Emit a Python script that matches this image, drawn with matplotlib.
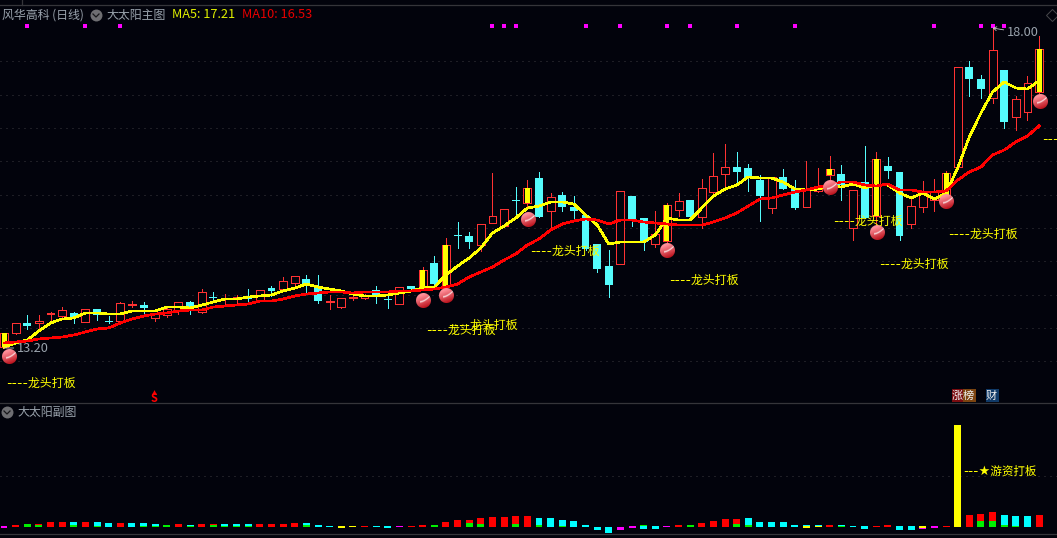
""" Daily candle chart with the sun main panel and the sub panel. """

import numpy as np
import matplotlib
matplotlib.use("Agg")
import matplotlib.pyplot as plt
from matplotlib.lines import Line2D
from matplotlib.patches import Rectangle
from matplotlib.offsetbox import OffsetImage, AnnotationBbox

plt.rcParams['font.family'] = ['Noto Sans CJK SC', 'DejaVu Sans']

opens = [13.22, 13.43, 13.58, 13.58, 13.71, 13.68, 13.73, 13.59, 13.79, 13.61,
         13.61, 13.85, 13.85, 13.65, 13.70, 13.77, 13.89, 13.74, 13.97, 13.94,
         13.95, 13.98, 13.92, 14.10, 14.09, 14.18, 14.24, 14.12, 13.89, 13.81,
         13.95, 13.95, 14.07, 13.94, 13.86, 14.13, 14.09, 14.48, 14.13, 14.90,
         14.88, 14.75, 15.08, 15.03, 15.42, 15.38, 15.75, 15.26, 15.50, 15.32,
         15.20, 14.76, 14.43, 14.46, 15.48, 15.15, 14.76, 14.81, 15.27, 15.42,
         15.17, 15.54, 15.81, 15.92, 15.90, 15.72, 15.30, 15.77, 15.60, 15.32,
         15.56, 15.80, 15.81, 15.00, 15.69, 15.18, 15.93, 15.84, 15.06, 15.32,
         15.42, 15.44, 15.92, 17.42, 17.24, 16.95, 17.37, 16.67, 16.74, 17.04]
closes = [13.43, 13.58, 13.53, 13.61, 13.73, 13.77, 13.65, 13.79, 13.70, 13.59,
          13.88, 13.86, 13.80, 13.73, 13.79, 13.89, 13.79, 14.04, 13.95, 13.95,
          13.97, 13.94, 14.07, 14.06, 14.21, 14.28, 14.16, 13.91, 13.91, 13.95,
          13.97, 14.00, 14.00, 13.92, 14.12, 14.09, 14.37, 14.16, 14.75, 14.88,
          14.79, 15.06, 15.18, 15.29, 15.41, 15.60, 15.17, 15.47, 15.32, 15.26,
          14.69, 14.39, 14.15, 15.56, 15.14, 14.79, 14.91, 15.35, 15.41, 15.17,
          15.60, 15.78, 15.92, 15.84, 15.75, 15.48, 15.77, 15.59, 15.30, 15.57,
          15.63, 15.89, 15.65, 15.57, 15.15, 16.04, 15.86, 14.88, 15.33, 15.53,
          15.54, 15.83, 17.42, 17.24, 17.09, 17.67, 16.59, 16.94, 17.18, 17.69]
highs = [13.43, 13.58, 13.70, 13.70, 13.74, 13.82, 13.74, 13.79, 13.79, 13.68,
         13.89, 13.91, 13.89, 13.73, 13.83, 13.89, 13.91, 14.09, 14.04, 14.01,
         14.00, 14.09, 14.07, 14.13, 14.27, 14.28, 14.30, 14.30, 14.00, 13.95,
         14.01, 14.01, 14.13, 14.03, 14.12, 14.13, 14.42, 14.58, 14.85, 15.09,
         14.94, 15.06, 15.83, 15.29, 15.62, 15.72, 15.84, 15.53, 15.54, 15.48,
         15.20, 14.76, 14.67, 15.56, 15.48, 15.15, 15.26, 15.38, 15.53, 15.42,
         15.74, 16.13, 16.26, 16.14, 15.96, 15.80, 15.77, 15.89, 15.72, 16.01,
         15.90, 16.08, 15.95, 15.57, 16.23, 16.14, 16.07, 15.84, 15.47, 15.71,
         15.74, 15.86, 17.42, 17.51, 17.30, 18.00, 17.37, 16.98, 17.28, 17.88]
lows = [13.20, 13.41, 13.49, 13.50, 13.62, 13.67, 13.58, 13.59, 13.62, 13.58,
        13.59, 13.82, 13.73, 13.61, 13.67, 13.71, 13.71, 13.73, 13.89, 13.86,
        13.88, 13.86, 13.92, 13.98, 14.07, 14.13, 14.03, 13.88, 13.79, 13.80,
        13.92, 13.94, 13.88, 13.80, 13.86, 14.07, 14.07, 14.10, 14.12, 14.70,
        14.70, 14.66, 15.08, 15.03, 15.18, 15.30, 15.17, 15.02, 15.26, 15.12,
        14.67, 14.34, 13.97, 14.46, 15.03, 14.67, 14.72, 14.79, 15.18, 15.17,
        15.00, 15.53, 15.62, 15.69, 15.56, 15.11, 15.23, 15.59, 15.29, 15.32,
        15.54, 15.69, 15.42, 14.82, 15.15, 15.02, 15.75, 14.82, 15.00, 15.24,
        15.26, 15.42, 15.92, 16.98, 16.95, 16.88, 16.50, 16.47, 16.62, 17.03]

ma5 = [13.215, 13.275, 13.32, 13.455, 13.575, 13.635, 13.65, 13.725, 13.725, 13.71,
       13.71, 13.755, 13.755, 13.755, 13.815, 13.815, 13.80, 13.845, 13.89, 13.935,
       13.935, 13.965, 13.98, 13.995, 14.055, 14.10, 14.16, 14.115, 14.085, 14.055,
       14.01, 13.98, 13.98, 13.995, 14.025, 14.055, 14.10, 14.115, 14.295, 14.43,
       14.55, 14.70, 14.925, 15.03, 15.15, 15.30, 15.33, 15.39, 15.39, 15.36,
       15.195, 15.045, 14.76, 14.79, 14.79, 14.79, 14.895, 15.15, 15.12, 15.12,
       15.30, 15.48, 15.585, 15.645, 15.765, 15.75, 15.75, 15.69, 15.585, 15.57,
       15.585, 15.63, 15.615, 15.66, 15.60, 15.645, 15.645, 15.525, 15.45, 15.525,
       15.435, 15.525, 15.90, 16.365, 16.725, 17.04, 17.19, 17.10, 17.085, 17.21]
ma10 = [13.275, 13.29, 13.305, 13.335, 13.35, 13.365, 13.395, 13.44, 13.485, 13.50,
        13.575, 13.635, 13.68, 13.71, 13.725, 13.755, 13.77, 13.77, 13.815, 13.83,
        13.845, 13.86, 13.905, 13.905, 13.935, 13.98, 14.01, 14.025, 14.04, 14.04,
        14.025, 14.04, 14.04, 14.04, 14.055, 14.055, 14.07, 14.085, 14.115, 14.16,
        14.265, 14.34, 14.415, 14.52, 14.61, 14.745, 14.835, 14.97, 15.06, 15.105,
        15.135, 15.12, 15.06, 15.12, 15.12, 15.09, 15.075, 15.06, 15.045, 15.045,
        15.045, 15.09, 15.15, 15.225, 15.33, 15.435, 15.45, 15.495, 15.54, 15.57,
        15.615, 15.645, 15.69, 15.69, 15.645, 15.63, 15.66, 15.57, 15.57, 15.54,
        15.54, 15.555, 15.72, 15.84, 15.915, 16.095, 16.17, 16.29, 16.38, 16.53]

limit_days = [0, 36, 38, 45, 57, 71, 75, 81, 89]
ball_days = [0.43, 36.08, 38.08, 45.08, 57.08, 71.08, 75.08, 81.08, 89.08]
ball_prices = [13.08, 13.92, 13.995, 15.135, 14.67, 15.615, 14.925, 15.405, 16.89]
flag_days = [2, 7, 10, 42, 43, 44, 50, 53, 57, 59, 63, 68, 80, 84, 85, 86]
flag_price = 18.03
price_grid = [17.5, 17.0, 16.5, 16.0, 15.5, 15.0, 14.5, 14.0, 13.5, 13.0]

label_days = [0.16, 36.32, 38.22, 45.22, 57.22, 71.32, 75.22, 81.22, 89.22]
label_prices = [12.66, 13.455, 13.53, 14.64, 14.205, 15.09, 14.445, 14.895, 16.32]

# sub panel: bar start, lower part, upper part and their colour codes
sub_base = [-1, 0, 0, 0, 0, 0, 0, 0, 0, 0,
            0, 0, 0, 0, 0, 0, 0, 0, 0, 0,
            0, 0, 0, 0, 0, 0, 0, 0, 0, -1,
            0, 0, 0, -1, 0, 0, 0, 0, 0, 0,
            0, 0, 0, 0, 0, 0, 0, 0, 0, 0,
            0, -3, -6, -2.5, -1, -2, -2, 0, 0, 0,
            0, 0, 0, 0, 0, 0, 0, 0, 0, -1,
            0, 0, 0, 0, -2, 0, 0, -3, -3, -2,
            -1, 0, 0, 0, 0, 0, 0, 0, 0, 0]
sub_low = [2, 2, 3, 2, 5, 5, 2, 5, 1, 4,
           4, 4, 1, 1, 2, 3, 1, 3, 2, 1,
           1, 1, 3, 3, 3, 4, 2, 2, 1, 2,
           1, 1, 1, 2, 1, 1, 2, 2, 5, 7,
           4, 3, 10, 10, 3, 11, 2, 9, 1, 6,
           2, 3, 6, 3, 2, 3, 3, 1, 2, 2,
           4, 6, 8, 3, 2, 5, 5, 5, 2, 2,
           1, 2, 1, 1, 3, 1, 2, 4, 4, 1,
           2, 1, 102, 12, 6, 6, 2, 1, 11, 12]
sub_high = [0, 0, 0, 1, 0, 0, 3, 0, 4, 0,
            0, 0, 3, 2, 0, 0, 1, 0, 1, 2,
            2, 2, 0, 0, 0, 0, 2, 0, 0, 0,
            0, 0, 0, 0, 0, 0, 0, 0, 0, 0,
            3, 6, 0, 0, 8, 0, 7, 0, 6, 0,
            0, 0, 0, 0, 0, 0.7, 0, 0, 0, 0,
            0, 0, 0, 5, 7, 0, 0, 0, 0, 1,
            1, 0, 1, 0, 0, 0, 0, 0, 0, 2,
            0, 0, 0, 0, 7, 9, 10, 10, 0, 0]
sub_low_kind = ("mrggrrgrgc" "rcgggrgrgg" "ggrrrrgccy" "yrccmrrgrr" "ggrrgrgcgc"
                "cccmmccmrg" "rrrggccccy" "yrgccrrccm" "mryrggggcr")
sub_high_kind = ("cccrcccccc" "ccccccccrc" "cccccccccc" "cccccccccc" "rrccrccccc"
                 "cccccgcccc" "cccrcccccc" "cccccccccy" "ccccrrcccc")

BG = "#02030c"
RED = "#ff3232"
CYAN = "#54fcfc"
GRID = "#3a3a3e"
GRAY = "#9aa3ad"
SUB_COLORS = {"r": "#ff0000", "g": "#00f000", "c": "#00ffff", "y": "#ffff00", "m": "#ff00ff"}
LABEL_FONT = ['Inter', 'Noto Sans CJK SC', 'DejaVu Sans']


def px(x, y):
    """ Screen pixel to figure fraction. """
    return x / 1057, 1 - y / 538


def ball_sprite(size=15):
    """ Small shaded red ball used for the signal marks. """
    v, u = np.mgrid[0:size, 0:size]
    u = (u + 0.5) / size * 2 - 1
    v = (v + 0.5) / size * 2 - 1
    rad = np.hypot(u, v)
    shade = np.clip(0.55 - 0.55 * v - 0.2 * u, 0, 1)
    rgba = np.zeros((size, size, 4))
    rgba[..., 0] = 0.74 + 0.26 * shade
    rgba[..., 1] = 0.08 + 0.48 * shade
    rgba[..., 2] = 0.12 + 0.48 * shade
    band = np.exp(-((v + 0.45 * u - 0.05 + 0.35 * u ** 2) / 0.13) ** 2) * (u > -0.5)
    rgba[..., :3] += (1 - rgba[..., :3]) * band[..., None] * 0.7
    rgba[..., 3] = np.clip((1 - rad) * size / 2 + 0.5, 0, 1)
    return rgba


def draw_candles(ax):
    """ Wicks first, bodies over them. """
    body_w = 0.68
    for i in range(len(opens)):
        is_up = closes[i] >= opens[i]
        color = RED if is_up else CYAN
        ax.vlines(i, lows[i], highs[i], color=color, linewidth=0.7, zorder=2, antialiased=False)
        top, bot = max(opens[i], closes[i]), min(opens[i], closes[i])
        if is_up:
            ax.bar(i, top - bot, body_w, bot, facecolor=BG, edgecolor=RED, linewidth=0.62,
                   zorder=3, antialiased=False)
        else:
            ax.bar(i, max(top - bot, 0.012), body_w, bot, color=CYAN, linewidth=0, zorder=3,
                   antialiased=False)
        if i in limit_days:
            ax.bar(i, top - bot, 0.43, bot, color="#ffff00", linewidth=0, zorder=4,
                   antialiased=False)


fig = plt.figure(figsize=(10.57, 5.38), dpi=100, facecolor=BG)

left, bottom = px(0, 403)
ax = fig.add_axes([left, bottom, 1, px(0, 6)[1] - bottom], facecolor=BG)
ax.set_xlim(-0.344, 90.54)
ax.set_ylim(12.375, 18.33)
ax.set_yticks(price_grid)
ax.set_xticks([])
ax.tick_params(length=0, labelleft=False)
ax.grid(axis="y", color=GRID, linewidth=0.72, linestyle=(0, (1, 5)))
ax.set_axisbelow(True)
for side in ax.spines.values():
    side.set_visible(False)

draw_candles(ax)

days = np.arange(len(ma5))
ax.plot(days, ma5, color="#ffff00", linewidth=1.2, zorder=5, antialiased=False)
ax.plot(days, ma10, color="#ff0000", linewidth=1.2, zorder=6, antialiased=False)

ax.scatter(flag_days, [flag_price] * len(flag_days), marker="s", s=5, color="#ff00ff",
           linewidths=0, zorder=5)

sprite = ball_sprite()
for day, price in zip(ball_days, ball_prices):
    ball = AnnotationBbox(OffsetImage(sprite, zoom=0.72), (day, price), frameon=False,
                          pad=0, zorder=8)
    ax.add_artist(ball)

for day, price in zip(label_days, label_prices):
    ax.text(day, price, "----龙头打板", color="#ffff00", fontsize=8.6, va="center", ha="left",
            family=LABEL_FONT, zorder=9, clip_on=True)

ax.annotate("18.00", xy=(85, 18.0), xytext=(10, -3.6), textcoords="offset points",
            color=GRAY, fontsize=9.2, va="center", zorder=9,
            arrowprops=dict(arrowstyle="->,head_length=0.25,head_width=0.15", color="#c8c8c8",
                            linewidth=0.6, shrinkA=0, shrinkB=0))
ax.annotate("13.20", xy=(0, 13.2), xytext=(9, 0), textcoords="offset points",
            color=GRAY, fontsize=9.2, va="center", zorder=9,
            arrowprops=dict(arrowstyle="-", color="#c8c8c8", linewidth=0.6, shrinkA=0, shrinkB=0))

# sub panel
left, bottom = px(0, 534)
sub = fig.add_axes([left, bottom, 1, px(0, 403)[1] - bottom], facecolor=BG)
sub.set_xlim(-0.344, 90.54)
sub.set_ylim(-7, 124)
sub.set_yticks([51])
sub.set_xticks([])
sub.tick_params(length=0, labelleft=False)
sub.grid(axis="y", color=GRID, linewidth=0.72, linestyle=(0, (1, 5)))
sub.set_axisbelow(True)
for side in sub.spines.values():
    side.set_visible(False)

sub_bar_w = 0.6
for i in range(len(sub_low)):
    sub.bar(i, sub_low[i], sub_bar_w, sub_base[i], color=SUB_COLORS[sub_low_kind[i]], linewidth=0,
            antialiased=False)
    if sub_high[i]:
        sub.bar(i, sub_high[i], sub_bar_w, sub_base[i] + sub_low[i],
                color=SUB_COLORS[sub_high_kind[i]], linewidth=0, antialiased=False)

sub.text(82.45, 55, "---★游资打板", color="#ffff00", fontsize=8.3, va="center", ha="left",
         family=LABEL_FONT)

# chrome around the panels
for y in (5, 403, 534):
    xy = px(0, y)
    fig.add_artist(Line2D([0, 1], [xy[1], xy[1]], color="#35353a", linewidth=0.9))
x0, y0 = px(22, 0)
x1, y1 = px(22, 5)
fig.add_artist(Line2D([x0, x1], [y0, y1], color="#35353a", linewidth=0.9))

for cx, cy in ((96, 15), (7, 412)):
    xy = px(cx, cy)
    fig.add_artist(Line2D([xy[0]], [xy[1]], marker="o", markersize=8.6, color="#6e6e72",
                          markeredgewidth=0))
    pts = [px(cx - 3, cy - 1), px(cx, cy + 2), px(cx + 3, cy - 1)]
    fig.add_artist(Line2D([p[0] for p in pts], [p[1] for p in pts], color="#17171a",
                          linewidth=0.9))

xy = px(1052, 15)
fig.add_artist(Line2D([xy[0]], [xy[1]], marker="D", markersize=6, markerfacecolor="none",
                      markeredgecolor="#48484c", markeredgewidth=0.7))


def head_text(x, y, text, color, size=8.6):
    """ Text placed by screen pixel. """
    fx, fy = px(x, y)
    fig.text(fx, fy, text, color=color, fontsize=size, va="center", ha="left")


head_text(2, 15, "风华高科 (日线)", GRAY)
head_text(106, 15, "大太阳主图", GRAY)
head_text(172, 15, "MA5: 17.21", "#e0f000", size=9.2)
head_text(242, 15, "MA10: 16.53", "#e80000", size=9.2)
head_text(17, 412, "大太阳副图", GRAY)

# event chips above the sub panel
for x, w, color, text in ((952, 11, "#7a0c10", "涨"), (963, 13, "#7c4410", "榜"),
                          (986, 13, "#103a68", "财")):
    fx, fy = px(x, 402)
    fig.add_artist(Rectangle((fx, fy), w / 1057, 13 / 538, transform=fig.transFigure,
                             facecolor=color, linewidth=0))
    head_text(x, 396, text, "#f0f0f0", size=8)

xy = px(154, 392)
fig.add_artist(Line2D([xy[0]], [xy[1]], marker="^", markersize=3.5, color="#ff0000",
                      markeredgewidth=0))
fig.text(*px(154, 398), "S", color="#ff0000", fontsize=8, fontweight="bold", va="center",
         ha="center")

fig.savefig("out.png", dpi=100, facecolor=BG)
plt.close(fig)
